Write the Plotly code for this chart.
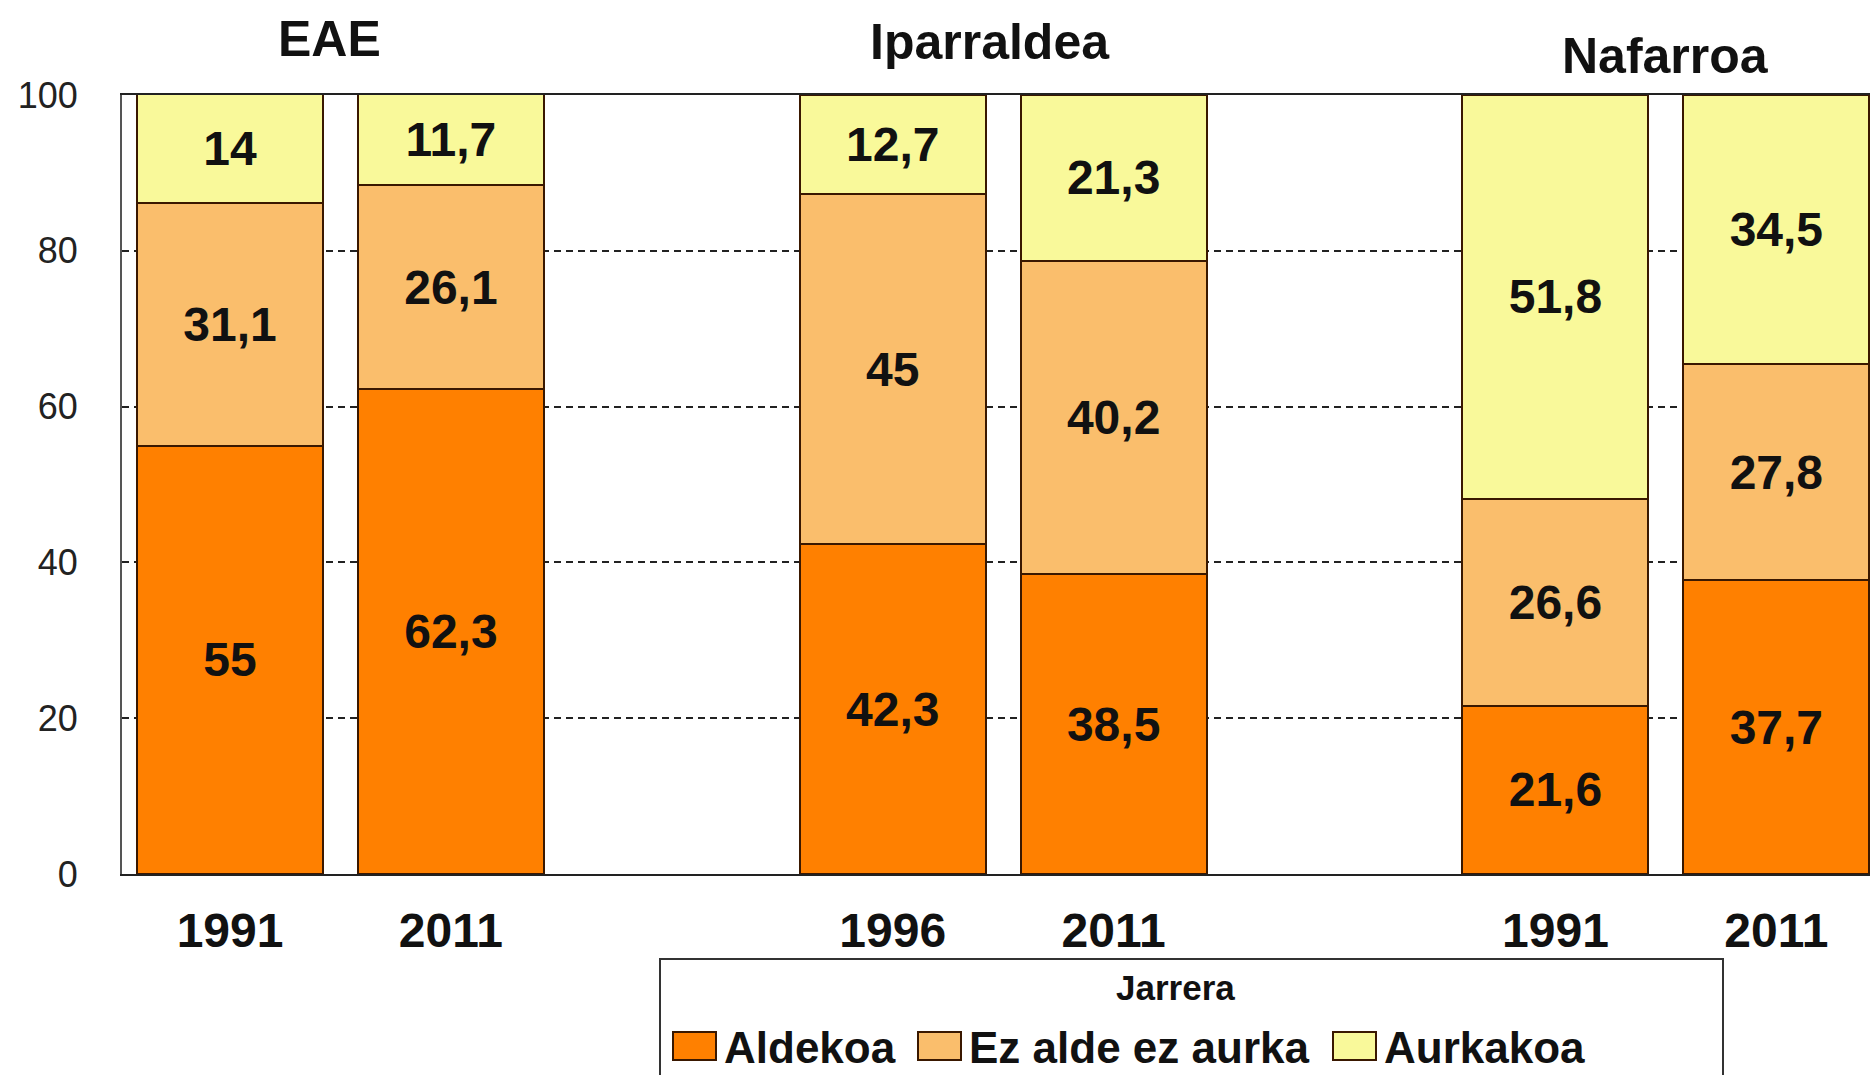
import plotly.graph_objects as go

# ---- data ----
groups = ["EAE", "Iparraldea", "Nafarroa"]
years = ["1991", "2011", "1996", "2011", "1991", "2011"]
group_of_bar = [0, 0, 1, 1, 2, 2]
series_names = ["Aldekoa", "Ez alde ez aurka", "Aurkakoa"]
aldekoa = [55, 62.3, 42.3, 38.5, 21.6, 37.7]
ez_alde = [31.1, 26.1, 45, 40.2, 26.6, 27.8]
aurkakoa = [14, 11.7, 12.7, 21.3, 51.8, 34.5]
y_ticks = [0, 20, 40, 60, 80, 100]
legend_title = "Jarrera"

# ---- styling ----
colors = ["#FF8000", "#FABE6C", "#F9F99A"]
edge = "#3A1800"
FONT = "Liberation Sans, Arial, sans-serif"
W, H = 1870, 1075
PL, PR, PT, PB = 122, 1870, 95, 874   # plot area in pixels


def px_x(p):
    return (p - PL) / (PR - PL)


def px_y(p):
    return (PB - p) / (PB - PT)


# x positions: 2 bars per group, one empty slot between groups
xpos = []
slot = {}
for g in group_of_bar:
    slot[g] = slot.get(g, -1) + 1
    xpos.append(g * 3 + slot[g])


def fmt(v):
    return f"{v:g}".replace(".", ",")


fig = go.Figure()
for name, vals, col in zip(series_names, [aldekoa, ez_alde, aurkakoa], colors):
    fig.add_trace(go.Bar(
        name=name, x=xpos, y=vals, width=0.842,
        marker=dict(color=col, line=dict(color=edge, width=2)),
        text=[fmt(v) for v in vals], textposition="inside",
        insidetextanchor="middle", constraintext="none", textangle=0,
        textfont=dict(family=FONT, size=48, color="#111", weight="bold"),
        hoverinfo="skip", showlegend=False,
    ))

# group titles
title_x = [0.45, 3.44, 6.5]
title_y_px = [39, 42, 56]
for t, tx, ty in zip(groups, title_x, title_y_px):
    fig.add_annotation(text=t, x=tx, xref="x", y=px_y(ty), yref="paper",
                       showarrow=False, yanchor="middle",
                       font=dict(family=FONT, size=50, color="#111", weight="bold"))

# legend box (drawn as shapes + text)
shapes = [dict(type="rect", xref="paper", yref="paper",
               x0=px_x(660), x1=px_x(1723), y0=px_y(1100), y1=px_y(959),
               line=dict(color="#333", width=2), fillcolor="white", layer="above")]
fig.add_annotation(text=legend_title, x=px_x(1175), y=px_y(987), xref="paper", yref="paper",
                   showarrow=False, xanchor="center", yanchor="middle",
                   font=dict(family=FONT, size=35, color="#111", weight="bold"))
sw_left = [673, 918, 1333]
for name, col, sx in zip(series_names, colors, sw_left):
    shapes.append(dict(type="rect", xref="paper", yref="paper",
                       x0=px_x(sx), x1=px_x(sx + 43), y0=px_y(1060), y1=px_y(1032),
                       line=dict(color=edge, width=2), fillcolor=col, layer="above"))
    fig.add_annotation(text=name, x=px_x(sx + 49), y=px_y(1047), xref="paper", yref="paper",
                       showarrow=False, xanchor="left", yanchor="middle",
                       font=dict(family=FONT, size=44, color="#111", weight="bold"))

fig.update_layout(
    width=W, height=H,
    barmode="stack",
    paper_bgcolor="white", plot_bgcolor="white",
    margin=dict(l=PL, r=W - PR, t=PT, b=H - PB, autoexpand=False),
    font=dict(family=FONT, color="#111"),
    showlegend=False,
    shapes=shapes,
    xaxis=dict(
        range=[-0.489, 7.424], tickmode="array", tickvals=xpos, ticktext=years,
        showgrid=False, zeroline=False,
        showline=True, linecolor="#222", linewidth=2, mirror=True,
        ticks="outside", ticklen=13, tickcolor="rgba(0,0,0,0)",
        tickfont=dict(family=FONT, size=48, color="#111", weight="bold"),
        automargin=False,
    ),
    yaxis=dict(
        range=[0, 100], tickmode="array", tickvals=y_ticks,
        showgrid=True, gridcolor="#222", gridwidth=1.5, griddash="7px,5px",
        zeroline=False, showline=True, linecolor="#555", linewidth=2, mirror=False,
        ticks="", ticklabelstandoff=35,
        tickfont=dict(family=FONT, size=36, color="#222"),
        automargin=False,
    ),
)

fig.write_html("out.html", config={"displayModeBar": False},
               post_script="document.body.style.margin='0';")
